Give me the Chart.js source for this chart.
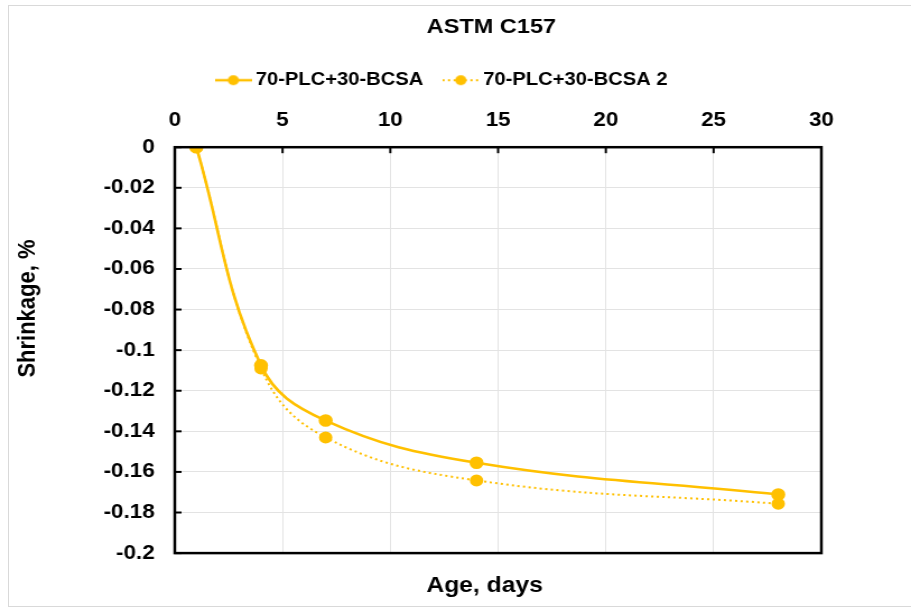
<!DOCTYPE html>
<html>
<head>
<meta charset="utf-8">
<script src="https://cdn.jsdelivr.net/npm/chart.js@4/dist/chart.umd.min.js"></script>
<style>
  html, body { margin: 0; padding: 0; background: #fff; overflow: hidden; }
  #wrap { position: relative; width: 911px; height: 609px; overflow: hidden; }
  #frame { position: absolute; left: 8px; top: 5px; width: 920px; height: 602px; border: 1px solid #d9d9d9; box-sizing: border-box; }
  #stretch { position: absolute; left: 0; top: 0; width: 813px; height: 609px; transform: scaleX(1.12054); transform-origin: 0 0; }
  canvas { display: block; }
</style>
</head>
<body>
<div id="wrap">
  <div id="frame"></div>
  <div id="stretch"><canvas id="c" width="813" height="609"></canvas></div>
</div>
<script>
// ---- data ----
const ageDays = [1, 4, 7, 14, 28];
const series1Name = '70-PLC+30-BCSA';
const series1 = [0, -0.1075, -0.1347, -0.1555, -0.1711];
const series2Name = '70-PLC+30-BCSA 2';
const series2 = [0, -0.109, -0.143, -0.1642, -0.1757];
const xTicks = [0, 5, 10, 15, 20, 25, 30];
const yTicks = [0, -0.02, -0.04, -0.06, -0.08, -0.1, -0.12, -0.14, -0.16, -0.18, -0.2];
const yTitle = 'Shrinkage, %';

const GOLD = '#FFC000';
const FONT = "'Liberation Sans', Arial, sans-serif";

function legendIcon(dashed) {
  const cv = document.createElement('canvas');
  cv.width = 33; cv.height = 14;
  const g = cv.getContext('2d');
  g.strokeStyle = GOLD;
  g.lineWidth = dashed ? 2 : 2.5;
  if (dashed) g.setLineDash([2, 3]);
  g.beginPath(); g.moveTo(0, 7); g.lineTo(33, 7); g.stroke();
  g.setLineDash([]);
  g.fillStyle = GOLD;
  g.beginPath(); g.arc(16.5, 7, 5, 0, Math.PI * 2); g.fill();
  return cv;
}

// shift centred header/footer boxes to match reference positions
const boxShift = {
  id: 'boxShift',
  afterLayout(chart) {
    const shift = (b, dx) => { if (b) { b.left += dx; b.right += dx; } };
    shift(chart.legend, -48);
    shift(chart.titleBlock, -6);
    shift(chart.boxes.find(b => b.options && b.options.text === 'Age, days'), -12);
  }
};

const frameAndTicks = {
  id: 'frameAndTicks',
  afterDatasetsDraw(chart) {
    const { ctx, chartArea: a, scales } = chart;
    ctx.save();
    ctx.strokeStyle = '#000';
    ctx.lineWidth = 2;
    xTicks.forEach(v => {
      const px = scales.x.getPixelForValue(v);
      ctx.beginPath(); ctx.moveTo(px, a.top); ctx.lineTo(px, a.top + 6); ctx.stroke();
    });
    yTicks.forEach(v => {
      const py = scales.y.getPixelForValue(v);
      ctx.beginPath(); ctx.moveTo(a.left, py); ctx.lineTo(a.left + 6, py); ctx.stroke();
    });
    ctx.lineWidth = 2.5;
    ctx.strokeRect(a.left, a.top, a.right - a.left, a.bottom - a.top);
    // y axis title
    ctx.translate(25, scales.y.getPixelForValue(-0.0795));
    ctx.rotate(-Math.PI / 2);
    ctx.fillStyle = '#000';
    ctx.font = `bold 22px ${FONT}`;
    ctx.textAlign = 'center';
    ctx.textBaseline = 'middle';
    ctx.fillText(yTitle, 0, 0);
    ctx.restore();
  }
};

new Chart(document.getElementById('c'), {
  type: 'line',
  data: {
    datasets: [
      {
        label: series1Name,
        data: ageDays.map((x, i) => ({ x, y: series1[i] })),
        borderColor: GOLD, backgroundColor: GOLD,
        borderWidth: 2.6, pointRadius: 5, pointHoverRadius: 5,
        tension: 0.4, fill: false
      },
      {
        label: series2Name,
        data: ageDays.map((x, i) => ({ x, y: series2[i] })),
        borderColor: GOLD, backgroundColor: GOLD,
        borderWidth: 2, borderDash: [2, 3], pointRadius: 5, pointHoverRadius: 5,
        tension: 0.4, fill: false
      }
    ]
  },
  options: {
    responsive: false,
    animation: false,
    layout: { padding: { left: 0, right: 80, top: 0, bottom: 0 } },
    plugins: {
      title: {
        display: true, text: 'ASTM C157', color: '#000', fullSize: false,
        font: { family: FONT, size: 21, weight: 'bold' },
        padding: { top: 15, bottom: 8.5 }
      },
      subtitle: {
        display: true, text: 'Age, days', position: 'bottom', color: '#000', fullSize: false,
        font: { family: FONT, size: 22, weight: 'bold' },
        padding: { top: 20, bottom: 9.5 }
      },
      legend: {
        display: true, position: 'top', fullSize: false,
        labels: {
          color: '#000',
          font: { family: FONT, size: 18, weight: 'bold' },
          usePointStyle: true, pointStyleWidth: 22, boxHeight: 14,
          padding: 22.5,
          generateLabels(chart) {
            return chart.data.datasets.map((ds, i) => ({
              text: ds.label, fillStyle: GOLD, strokeStyle: GOLD, lineWidth: 0,
              pointStyle: legendIcon(i === 1), datasetIndex: i, hidden: false, fontColor: '#000'
            }));
          }
        }
      },
      tooltip: { enabled: false }
    },
    scales: {
      x: {
        type: 'linear', position: 'top', min: 0, max: 30,
        afterBuildTicks(scale) { scale.ticks = xTicks.map(v => ({ value: v })); },
        afterFit(scale) { scale.height = 48; },
        ticks: { color: '#000', font: { family: FONT, size: 20, weight: 'bold' }, padding: 15 },
        grid: { color: '#e3e3e3', lineWidth: 1, drawTicks: false },
        border: { display: false }
      },
      y: {
        type: 'linear', min: -0.2, max: 0,
        afterBuildTicks(scale) { scale.ticks = yTicks.map(v => ({ value: v })); },
        afterFit(scale) { scale.width = 156; },
        ticks: {
          color: '#000', font: { family: FONT, size: 20, weight: 'bold' }, padding: 18,
          callback: v => String(+v.toFixed(2))
        },
        grid: { color: '#e3e3e3', lineWidth: 1, drawTicks: false },
        border: { display: false },
        title: { display: false }
      }
    }
  },
  plugins: [boxShift, frameAndTicks]
});
</script>
</body>
</html>
